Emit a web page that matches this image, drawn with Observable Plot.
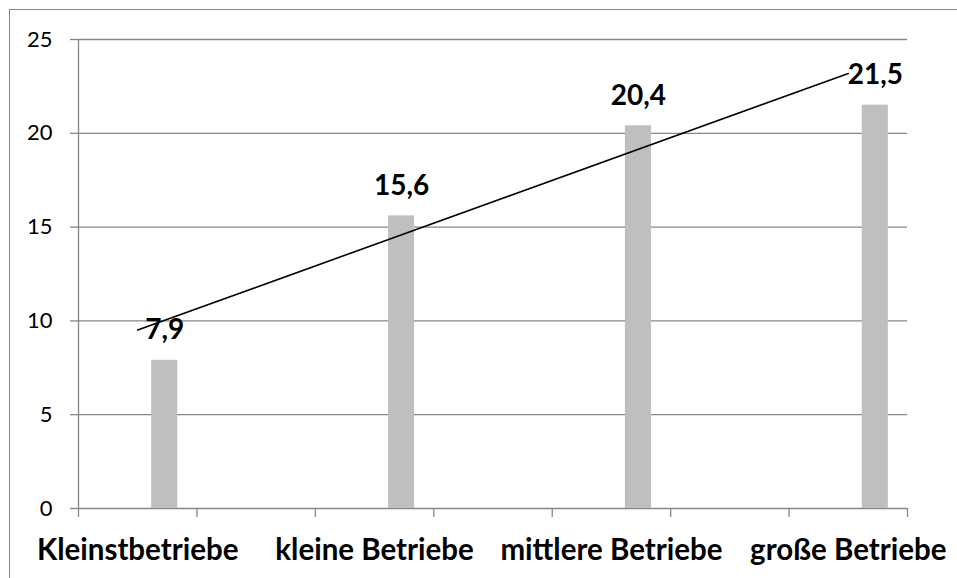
<!DOCTYPE html>
<html><head><meta charset="utf-8">
<script src="https://cdn.jsdelivr.net/npm/d3@7"></script>
<script src="https://cdn.jsdelivr.net/npm/@observablehq/plot@0.6"></script>
<style>
body{margin:0;background:#fff;overflow:hidden;}
#wrap{position:relative;width:957px;height:578px;overflow:hidden;}
#frame{position:absolute;left:9px;top:9px;width:1000px;height:1000px;border:1px solid #868686;box-sizing:border-box;}
#chart{position:absolute;left:0;top:0;}
</style></head><body><div id="wrap"><div id="frame"></div><div id="chart"></div></div>
<script>
const categories = ["Kleinstbetriebe", "kleine Betriebe", "mittlere Betriebe", "große Betriebe"];
const values = [7.9, 15.6, 20.4, 21.5];
const slots = [0.5, 2.5, 4.5, 6.5];          // category centres among 7 axis intervals
const slotTicks = [0, 1, 2, 3, 4, 5, 6, 7];
const yTicks = [0, 5, 10, 15, 20, 25];

const data = categories.map((c, i) => ({c, v: values[i], s: slots[i]}));
const grid = "#868686";

const chart = Plot.plot({
  width: 957, height: 578,
  marginLeft: 78, marginRight: 50, marginTop: 39, marginBottom: 70,
  x: {domain: [0, 7], axis: null},
  y: {domain: [0, 25], axis: null},
  style: {fontFamily: "Lato, 'Open Sans', sans-serif", background: "transparent", overflow: "visible", color: "black"},
  marks: [
    Plot.gridY(yTicks, {stroke: grid, strokeOpacity: 1, strokeWidth: 1.3}),
    Plot.axisY(yTicks, {label: null, tickSize: 8, tickPadding: 18, stroke: grid, strokeOpacity: 1, strokeWidth: 1.3, fontSize: 22, fill: "black", tickFormat: d => String(d)}),
    Plot.ruleX([0], {stroke: grid, strokeWidth: 1.3}),
    Plot.axisX(slotTicks, {label: null, tickSize: 9, stroke: grid, strokeOpacity: 1, strokeWidth: 1.3, tickFormat: () => ""}),
    Plot.axisX(slots, {label: null, tickSize: 0, tickPadding: 31, fontSize: 29.5, fontWeight: "bold", fill: "black",
      tickFormat: d => categories[slots.indexOf(d)]}),
    Plot.rectY(data, {x1: d => d.s + 0.118, x2: d => d.s + 0.338, y: "v", fill: "#BFBFBF"}),
    Plot.linearRegressionY(data, {x: "s", y: "v", ci: 0, stroke: "black", strokeWidth: 1.6}),
    Plot.text(data, {x: d => d.s + 0.228, y: "v", text: d => d.v.toLocaleString("de-DE"),
      fontSize: 28, fontWeight: "bold", fill: "black", dy: -30})
  ]
});
document.getElementById("chart").appendChild(chart);
</script></body></html>
